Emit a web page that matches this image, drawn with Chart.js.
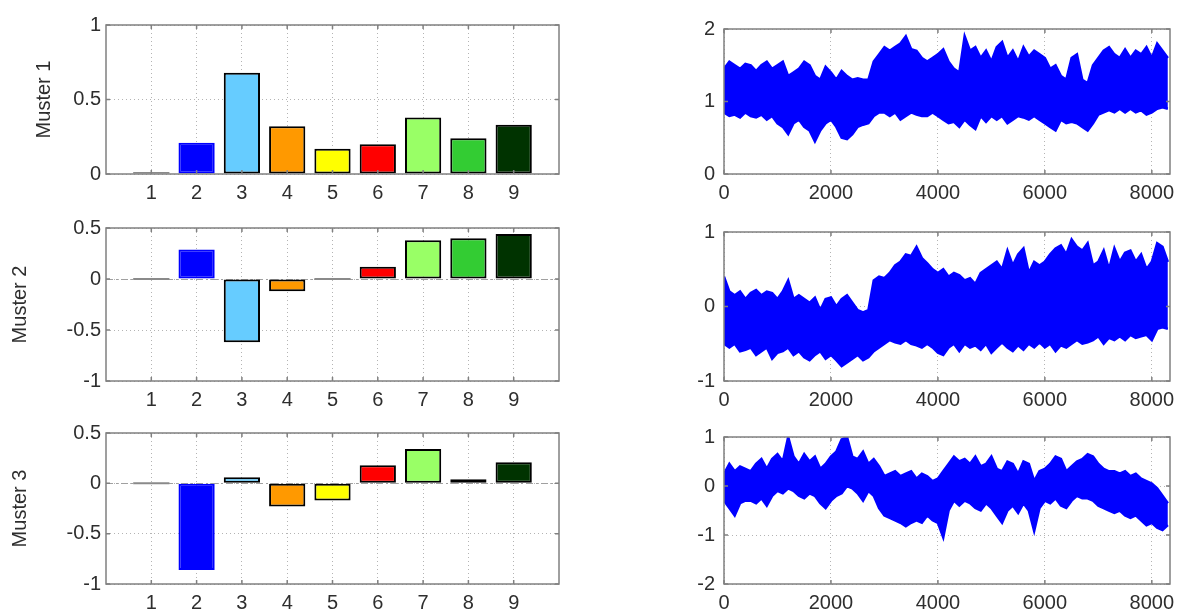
<!DOCTYPE html>
<html>
<head>
<meta charset="utf-8">
<script src="https://cdn.jsdelivr.net/npm/chart.js@4.4.0/dist/chart.umd.min.js"></script>
<style>
html, body { margin: 0; padding: 0; background: #fff; width: 1183px; height: 613px; overflow: hidden; }
canvas { position: absolute; }
</style>
</head>
<body>
<canvas id="bar1"></canvas>
<canvas id="bar2"></canvas>
<canvas id="bar3"></canvas>
<canvas id="ts1"></canvas>
<canvas id="ts2"></canvas>
<canvas id="ts3"></canvas>
<script>
// bar loadings, one value per variable
const categories = [1, 2, 3, 4, 5, 6, 7, 8, 9];
const muster1 = [0, 0.21, 0.68, 0.32, 0.17, 0.20, 0.38, 0.24, 0.33];
const muster2 = [0, 0.29, -0.62, -0.12, 0, 0.12, 0.38, 0.40, 0.44];
const muster3 = [0, -0.86, 0.06, -0.23, -0.17, 0.18, 0.34, 0.04, 0.21];
const musterNames = ['Muster 1', 'Muster 2', 'Muster 3'];

const barColors = ['#8a8a8a', '#0000ff', '#66ccff', '#ff9900', '#ffff00', '#ff0000', '#99ff66', '#33cc33', '#003300'];

// time series, upper and lower edge of the point cloud every 100 samples
const sampleX = [0, 100, 200, 300, 400, 500, 600, 700, 800, 900, 1000, 1100, 1200, 1300, 1400, 1500, 1600, 1700, 1800, 1900,
  2000, 2100, 2200, 2300, 2400, 2500, 2600, 2700, 2800, 2900, 3000, 3100, 3200, 3300, 3400, 3500, 3600, 3700, 3800, 3900,
  4000, 4100, 4200, 4300, 4400, 4500, 4600, 4700, 4800, 4900, 5000, 5100, 5200, 5300, 5400, 5500, 5600, 5700, 5800, 5900,
  6000, 6100, 6200, 6300, 6400, 6500, 6600, 6700, 6800, 6900, 7000, 7100, 7200, 7300, 7400, 7500, 7600, 7700, 7800, 7900,
  8000, 8100, 8200, 8300];

const series1Upper = [1.45, 1.55, 1.5, 1.45, 1.52, 1.5, 1.42, 1.5, 1.55, 1.45, 1.5, 1.55, 1.35, 1.4, 1.45, 1.55, 1.5, 1.35, 1.3, 1.48,
  1.4, 1.3, 1.42, 1.35, 1.3, 1.32, 1.3, 1.3, 1.55, 1.65, 1.75, 1.7, 1.75, 1.8, 1.9, 1.72, 1.7, 1.6, 1.55, 1.6,
  1.65, 1.72, 1.55, 1.45, 1.4, 1.9, 1.7, 1.75, 1.6, 1.7, 1.55, 1.75, 1.82, 1.6, 1.7, 1.55, 1.75, 1.62, 1.7, 1.65,
  1.6, 1.45, 1.5, 1.35, 1.3, 1.6, 1.65, 1.3, 1.25, 1.5, 1.6, 1.7, 1.75, 1.65, 1.6, 1.72, 1.6, 1.7, 1.65, 1.75,
  1.6, 1.8, 1.7, 1.6];
const series1Lower = [0.85, 0.8, 0.82, 0.78, 0.85, 0.8, 0.78, 0.82, 0.75, 0.8, 0.7, 0.65, 0.55, 0.7, 0.75, 0.65, 0.6, 0.45, 0.6, 0.7,
  0.75, 0.65, 0.5, 0.48, 0.55, 0.65, 0.68, 0.7, 0.8, 0.85, 0.85, 0.8, 0.85, 0.75, 0.8, 0.85, 0.82, 0.8, 0.8, 0.85,
  0.8, 0.75, 0.7, 0.72, 0.65, 0.75, 0.68, 0.62, 0.8, 0.72, 0.8, 0.75, 0.8, 0.7, 0.75, 0.8, 0.78, 0.75, 0.8, 0.75,
  0.7, 0.65, 0.6, 0.75, 0.7, 0.72, 0.7, 0.65, 0.6, 0.7, 0.82, 0.85, 0.88, 0.85, 0.9, 0.85, 0.9, 0.85, 0.88, 0.82,
  0.85, 0.9, 0.92, 0.9];

const series2Upper = [0.4, 0.2, 0.15, 0.2, 0.1, 0.18, 0.22, 0.15, 0.2, 0.18, 0.1, 0.2, 0.35, 0.1, 0.15, 0.1, 0.05, 0.12, -0.05, 0.1,
  0.12, 0, 0.1, 0.15, 0.05, -0.05, -0.08, -0.05, 0.35, 0.4, 0.38, 0.45, 0.55, 0.6, 0.7, 0.68, 0.8, 0.65, 0.58, 0.5,
  0.45, 0.5, 0.4, 0.45, 0.42, 0.35, 0.38, 0.3, 0.45, 0.5, 0.55, 0.6, 0.5, 0.75, 0.55, 0.7, 0.78, 0.45, 0.6, 0.55,
  0.6, 0.7, 0.78, 0.82, 0.7, 0.9, 0.8, 0.75, 0.85, 0.55, 0.6, 0.75, 0.5, 0.78, 0.6, 0.72, 0.75, 0.6, 0.7, 0.5,
  0.6, 0.85, 0.8, 0.6];
const series2Lower = [-0.5, -0.55, -0.5, -0.6, -0.58, -0.55, -0.65, -0.6, -0.55, -0.7, -0.62, -0.6, -0.55, -0.65, -0.6, -0.68, -0.72, -0.65, -0.6, -0.7,
  -0.65, -0.72, -0.8, -0.75, -0.7, -0.65, -0.72, -0.68, -0.6, -0.55, -0.5, -0.45, -0.48, -0.5, -0.45, -0.5, -0.52, -0.55, -0.5, -0.55,
  -0.62, -0.65, -0.55, -0.5, -0.6, -0.5, -0.55, -0.52, -0.58, -0.5, -0.62, -0.55, -0.48, -0.55, -0.6, -0.52, -0.58, -0.5, -0.55, -0.48,
  -0.55, -0.5, -0.6, -0.52, -0.55, -0.5, -0.45, -0.5, -0.48, -0.45, -0.4, -0.5, -0.42, -0.45, -0.4, -0.45, -0.38, -0.42, -0.4, -0.38,
  -0.45, -0.3, -0.28, -0.3];

const series3Upper = [0.25, 0.45, 0.3, 0.4, 0.35, 0.3, 0.45, 0.55, 0.35, 0.55, 0.65, 0.5, 1.0, 0.6, 0.45, 0.65, 0.5, 0.6, 0.35, 0.45,
  0.6, 0.7, 0.95, 1.0, 0.6, 0.55, 0.7, 0.45, 0.55, 0.4, 0.2, 0.25, 0.3, 0.2, 0.25, 0.3, 0.15, 0.25, 0.2, 0.1,
  0.15, 0.3, 0.45, 0.6, 0.5, 0.55, 0.45, 0.6, 0.4, 0.45, 0.6, 0.35, 0.3, 0.5, 0.45, 0.25, 0.5, 0.45, 0.1, 0.3,
  0.35, 0.45, 0.6, 0.55, 0.3, 0.4, 0.5, 0.55, 0.65, 0.6, 0.45, 0.35, 0.3, 0.3, 0.25, 0.3, 0.2, 0.25, 0.15, 0.1,
  0.05, -0.05, -0.2, -0.35];
const series3Lower = [-0.3, -0.45, -0.6, -0.35, -0.3, -0.3, -0.35, -0.25, -0.4, -0.2, -0.1, -0.15, -0.05, -0.1, -0.2, -0.25, -0.15, -0.2, -0.35, -0.45,
  -0.3, -0.2, -0.15, 0, -0.05, -0.15, -0.3, -0.1, -0.2, -0.45, -0.6, -0.65, -0.7, -0.75, -0.82, -0.75, -0.7, -0.75, -0.6, -0.7,
  -0.75, -1.05, -0.5, -0.3, -0.4, -0.3, -0.35, -0.45, -0.5, -0.35, -0.45, -0.6, -0.75, -0.5, -0.4, -0.55, -0.35, -0.5, -0.92, -0.45,
  -0.3, -0.35, -0.25, -0.4, -0.45, -0.3, -0.2, -0.25, -0.25, -0.3, -0.4, -0.45, -0.5, -0.55, -0.5, -0.6, -0.65, -0.6, -0.7, -0.8,
  -0.75, -0.85, -0.9, -0.8];

const barYTicks = [[0, 0.5, 1], [-1, -0.5, 0, 0.5], [-1, -0.5, 0, 0.5]];
const seriesXTicks = [0, 2000, 4000, 6000, 8000];
const seriesYTicks = [[0, 1, 2], [-1, 0, 1], [-2, -1, 0, 1]];

Chart.defaults.font.family = '"Liberation Sans", Arial, sans-serif';
Chart.defaults.font.size = 20;
Chart.defaults.color = '#2e2e2e';

const rows = [{ top: 22, bottom: 174 }, { top: 225, bottom: 381 }, { top: 430, bottom: 584 }];
const PAD_TOP = 14, X_AXIS_H = 40;

// plain number labels, no thousands separators or trailing ".0"
const plain = v => String(v);

// axes box with inward tick marks, plus a dash-dot baseline for the bars
const frame = {
  id: 'frame',
  beforeDatasetsDraw(chart, args, opts) {
    if (!opts.zeroLine) return;
    const { ctx, chartArea: a, scales: { y } } = chart;
    const py = Math.round(y.getPixelForValue(0)) + 0.5;
    ctx.save();
    ctx.strokeStyle = '#a0a0a0';
    ctx.lineWidth = 1.2;
    ctx.setLineDash([7, 3, 2, 3]);
    ctx.beginPath();
    ctx.moveTo(a.left, py);
    ctx.lineTo(a.right, py);
    ctx.stroke();
    ctx.restore();
  },
  afterDraw(chart) {
    const { ctx, chartArea: a, scales: { x, y } } = chart;
    ctx.save();
    ctx.strokeStyle = '#808080';
    ctx.lineWidth = 1.5;
    ctx.beginPath();
    x.ticks.forEach(t => {
      const px = x.getPixelForValue(t.value);
      ctx.moveTo(px, a.bottom); ctx.lineTo(px, a.bottom - 4);
      ctx.moveTo(px, a.top); ctx.lineTo(px, a.top + 4);
    });
    y.ticks.forEach(t => {
      const py = y.getPixelForValue(t.value);
      ctx.moveTo(a.left, py); ctx.lineTo(a.left + 4, py);
      ctx.moveTo(a.right, py); ctx.lineTo(a.right - 4, py);
    });
    ctx.stroke();
    ctx.strokeRect(a.left, a.top, a.right - a.left, a.bottom - a.top);
    ctx.restore();
  }
};

function place(id, canvasX, plotLeft, plotRight, padRight, row) {
  const el = document.getElementById(id);
  el.width = plotRight - canvasX + padRight;
  el.height = row.bottom - row.top + PAD_TOP + X_AXIS_H;
  el.style.left = canvasX + 'px';
  el.style.top = (row.top - PAD_TOP) + 'px';
  return el;
}

function gridOpts() {
  return {
    grid: { color: '#b4b4b4', lineWidth: 1, drawTicks: false, offset: false },
    border: { display: false, dash: [1, 3] }
  };
}

const isZero = ctx => ctx.parsed && ctx.parsed.y === 0;

function barChart(id, values, row, yTicks, name, titlePad) {
  const el = place(id, 0, 106, 559, 10, row);
  new Chart(el, {
    type: 'bar',
    data: {
      datasets: [{
        data: categories.map((c, i) => ({ x: c, y: values[i] })),
        backgroundColor: ctx => isZero(ctx) ? '#8a8a8a' : barColors[ctx.dataIndex],
        borderColor: ctx => ctx.dataIndex === 1 ? '#0000ff' : '#000000',
        borderWidth: ctx => isZero(ctx) ? 0 : 2,
        borderSkipped: false,
        minBarLength: 2,
        barPercentage: 1,
        categoryPercentage: 0.8
      }]
    },
    options: {
      responsive: false,
      animation: false,
      events: [],
      layout: { padding: { top: PAD_TOP, right: 10, left: 0, bottom: 0 } },
      plugins: { legend: { display: false }, tooltip: { enabled: false }, frame: { zeroLine: yTicks[0] < 0 } },
      scales: {
        x: {
          type: 'linear', min: 0, max: 10, offset: false,
          ...gridOpts(),
          afterBuildTicks: s => { s.ticks = categories.map(v => ({ value: v })); },
          afterFit: s => { s.height = X_AXIS_H; },
          ticks: { padding: 7, maxRotation: 0, callback: plain }
        },
        y: {
          min: yTicks[0], max: yTicks[yTicks.length - 1],
          ...gridOpts(),
          afterBuildTicks: s => { s.ticks = yTicks.map(v => ({ value: v })); },
          afterFit: s => { s.width = 106; },
          ticks: { padding: 5, callback: plain },
          title: { display: true, text: name, padding: { top: titlePad, bottom: 0 } }
        }
      }
    },
    plugins: [frame]
  });
}

function seriesChart(id, upper, lower, row, yTicks) {
  const el = place(id, 640, 724, 1170, 30, row);
  const pts = arr => sampleX.map((x, i) => ({ x: x, y: arr[i] }));
  const line = { borderColor: '#0000ff', backgroundColor: '#0000ff', borderWidth: 2.5, pointRadius: 0, tension: 0 };
  new Chart(el, {
    type: 'line',
    data: {
      datasets: [
        { ...line, data: pts(upper), fill: '+1' },
        { ...line, data: pts(lower), fill: false }
      ]
    },
    options: {
      responsive: false,
      animation: false,
      events: [],
      layout: { padding: { top: PAD_TOP, right: 30, left: 0, bottom: 0 } },
      plugins: { legend: { display: false }, tooltip: { enabled: false }, frame: { zeroLine: false } },
      scales: {
        x: {
          type: 'linear', min: 0, max: 8340,
          ...gridOpts(),
          afterBuildTicks: s => { s.ticks = seriesXTicks.map(v => ({ value: v })); },
          afterFit: s => { s.height = X_AXIS_H; },
          ticks: { padding: 7, maxRotation: 0, callback: plain }
        },
        y: {
          min: yTicks[0], max: yTicks[yTicks.length - 1],
          ...gridOpts(),
          afterBuildTicks: s => { s.ticks = yTicks.map(v => ({ value: v })); },
          afterFit: s => { s.width = 84; },
          ticks: { padding: 9, callback: plain }
        }
      }
    },
    plugins: [frame]
  });
}

barChart('bar1', muster1, rows[0], barYTicks[0], musterNames[0], 32);
barChart('bar2', muster2, rows[1], barYTicks[1], musterNames[1], 8);
barChart('bar3', muster3, rows[2], barYTicks[2], musterNames[2], 8);

seriesChart('ts1', series1Upper, series1Lower, rows[0], seriesYTicks[0]);
seriesChart('ts2', series2Upper, series2Lower, rows[1], seriesYTicks[1]);
seriesChart('ts3', series3Upper, series3Lower, rows[2], seriesYTicks[2]);
</script>
</body>
</html>
